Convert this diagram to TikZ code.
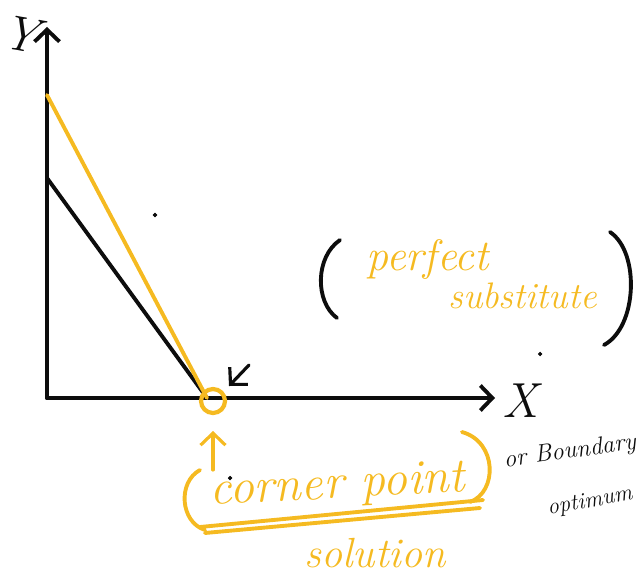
\documentclass[tikz,border=0pt]{standalone}
\usepackage{tkz-euclide}
\usetikzlibrary{arrows.meta,calc}
\definecolor{NoteClr}{rgb}{0.96,0.73,0.13}
\definecolor{InkClr}{rgb}{0.05,0.05,0.05}

\tikzset{
  ink/.style={line width=2.2pt,color=InkClr,line cap=round},
  note/.style={text=NoteClr,font=\itshape,inner sep=0pt},
  blacknote/.style={text=InkClr,font=\itshape,inner sep=0pt}
}

\begin{document}
\begin{tikzpicture}[>={Straight Barb[length=2.4mm,width=5mm]}]
\useasboundingbox (0,0) rectangle (12.88,11.54);
\tkzSetUpLine[line width=2.2pt,color=InkClr]

% Axes and the two budget lines.
\tkzDefPoints{0.94/3.58/O, 0.94/11.0/Yt, 9.9/3.58/Xt}
\tkzDefPoint(0.94,7.98){Yb}
\tkzDefPoint(0.94,9.64){Yo}
\tkzDefPoint(4.14,3.58){C}

\draw[ink,->] (O) -- (Yt);
\draw[ink,->] (O) -- (Xt);
\draw[ink] (Yb) -- (C);
\draw[ink,color=NoteClr] (Yo) -- (C);

% Mark the corner point.
\tkzDefPoint(4.26,3.52){Cc}
\tkzDefPoint(4.50,3.52){Cr}
\tkzDrawCircle[line width=2.4pt,color=NoteClr](Cc,Cr)

\tkzDefPoint(4.98,4.24){Pa}
\tkzDefPoint(4.58,3.82){Pb}
\draw[ink,line width=1.8pt,->] (Pa) -- (Pb);

\tkzDefPoint(4.26,2.14){Ua}
\tkzDefPoint(4.26,2.92){Ub}
\draw[ink,line width=1.8pt,color=NoteClr,->] (Ua) -- (Ub);

% Axis names.
\node[blacknote,font=\fontsize{28}{28}\selectfont\itshape,rotate=-10] (ylab) at (0.42,10.85) {Y};
\node[blacknote,font=\fontsize{28}{28}\selectfont\itshape] (xlab) at (10.4,3.52) {X};

% (perfect substitute)
\coordinate (psl1) at (6.80,6.74);
\coordinate (psl2) at (6.74,5.18);
\coordinate (psr1) at (12.20,6.90);
\coordinate (psr2) at (12.08,4.64);
\draw[ink] (psl1) .. controls (6.30,6.40) and (6.30,5.50) .. (psl2);
\draw[ink] (psr1) .. controls (12.80,6.50) and (12.75,5.00) .. (psr2);
\node[note,font=\fontsize{25}{25}\selectfont\itshape] (perfect) at (8.55,6.35) {perfect};
\node[note,font=\fontsize{21}{21}\selectfont\itshape] (subst) at (10.45,5.62) {substitute};

% (corner point) solution
\coordinate (cpl1) at (4.00,2.14);
\coordinate (cpl2) at (4.10,0.94);
\coordinate (cpr1) at (9.24,2.90);
\coordinate (cpr2) at (9.40,1.50);
\draw[ink,color=NoteClr] (cpl1) .. controls (3.55,1.90) and (3.60,1.10) .. (cpl2);
\draw[ink,color=NoteClr] (cpr1) .. controls (9.95,2.70) and (9.95,1.70) .. (cpr2);
\node[note,font=\fontsize{28}{28}\selectfont\itshape,rotate=3] (corner) at (6.75,1.80) {corner point};
\coordinate (ul1) at (4.00,1.00);
\coordinate (ul2) at (9.66,1.54);
\coordinate (ul3) at (4.10,0.88);
\coordinate (ul4) at (9.60,1.38);
\draw[ink,color=NoteClr] (ul1) -- (ul2);
\draw[ink,color=NoteClr] (ul3) -- (ul4);
\node[note,font=\fontsize{24}{24}\selectfont\itshape] (solution) at (7.5,0.48) {solution};

% or Boundary optimum
\node[blacknote,font=\fontsize{14}{14}\selectfont\itshape,rotate=8] (bound) at (11.40,2.50) {or Boundary};
\node[blacknote,font=\fontsize{13}{13}\selectfont\itshape,rotate=10] (optim) at (11.80,1.50) {optimum};

% stray dots
\tkzDefPoint(3.10,7.24){d1}
\tkzDefPoint(10.80,4.46){d2}
\tkzDefPoint(4.60,1.98){d3}
\tkzDrawPoints[size=2,color=InkClr,fill=InkClr](d1,d2,d3)
\end{tikzpicture}
\end{document}
